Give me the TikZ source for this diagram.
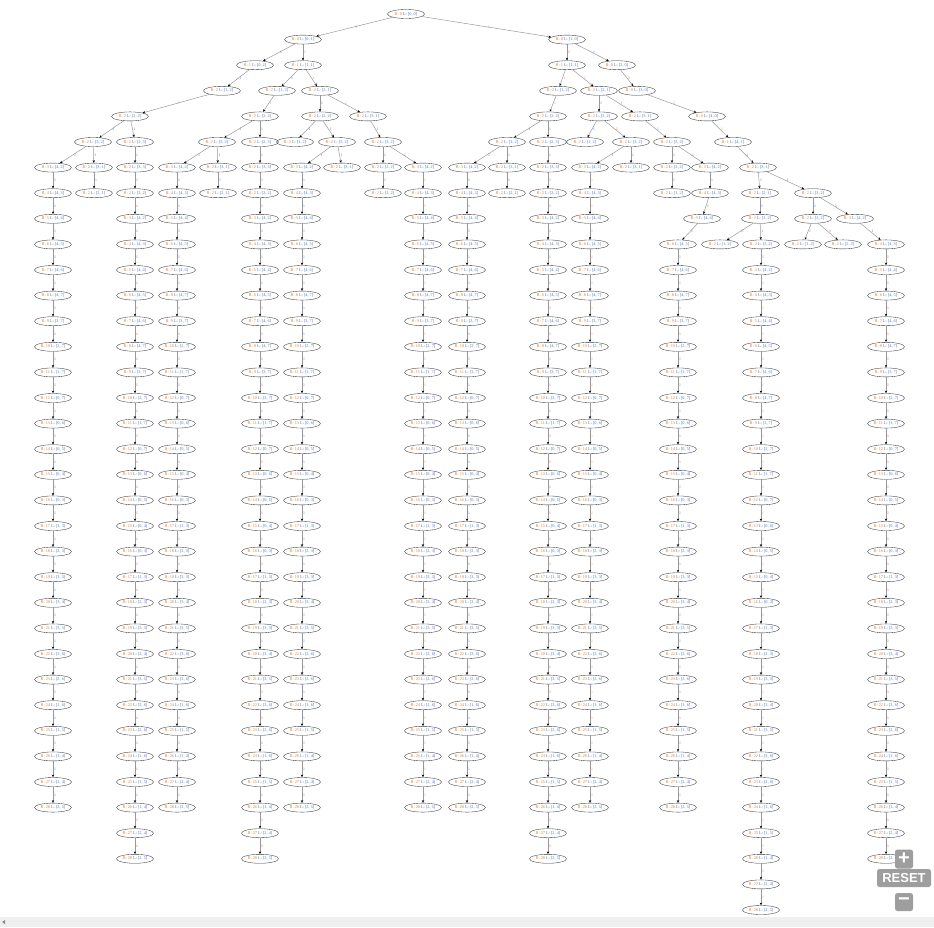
\documentclass[tikz,border=0pt]{standalone}
\usepackage{fontspec}
\setmainfont{Liberation Serif}
\newfontfamily\uifont{Liberation Sans}
\usetikzlibrary{shapes.geometric, arrows.meta}
\definecolor{rtext}{HTML}{D9822B}
\definecolor{ltext}{HTML}{4A78C2}
\definecolor{lblue}{HTML}{4A78C2}
\definecolor{lorange}{HTML}{E0902E}
\definecolor{lred}{HTML}{D8443C}
\definecolor{edgegray}{HTML}{999999}
\definecolor{btngray}{HTML}{9E9E9E}
\definecolor{barback}{HTML}{EFEFEF}
\tikzset{
  % search states
  state/.style={ellipse, draw=black!80, line width=0.35pt,
                minimum width=37pt, minimum height=9pt,
                inner xsep=-2pt, inner ysep=0pt,
                font=\fontsize{4.3}{5}\selectfont},
  % transitions
  rel/.style={draw=edgegray, line width=0.5pt,
              -{Stealth[length=2.8pt, width=2.3pt, color=black]}},
  % transition weights -- usage: node[elab=lred]{1}
  elab/.style={pos=0.5, anchor=west, inner sep=0.8pt,
               font=\fontsize{3.8}{4}\selectfont, text=#1},
  elab/.default=lblue,
  % viewer buttons
  ctrl/.style={rectangle, rounded corners=2.5pt, fill=btngray,
               text=white, font=\uifont\bfseries, inner sep=0pt},
}
\newcommand{\Y}[1]{-14-25.6*#1}
\newcommand{\lab}[3]{\textcolor{rtext}{R: #1} \textcolor{ltext}{L: [#2, #3]}}
% shared tail of every long branch: R/a/b
\newcommand{\pathseq}{3/4/2,4/4/3,5/4/4,6/4/5,7/4/6,8/4/7,9/3/7,10/2/7,
  11/1/7,12/0/7,13/0/6,14/0/5,15/0/4,16/0/3,17/1/3,18/2/3,19/3/3,20/3/4,
  21/3/5,22/3/6,23/2/6,24/1/6,25/1/5,26/1/4,27/2/4,28/2/5}
% usage: \chain{name}{x}{level offset}{first R}{label colour}
\newcommand{\chain}[5]{%
  \foreach \r/\pa/\pb in \pathseq {%
    \ifnum\r<#4\relax\else
      \pgfmathtruncatemacro{\lvl}{\r+#3}%
      \node[state] (#1-\r) at (#2,\Y{\lvl}) {\lab{\r}{\pa}{\pb}};
    \fi}%
  \foreach \r in {4,...,28} {%
    \pgfmathtruncatemacro{\q}{\r-1}%
    \draw[rel] (#1-\q) -- node[elab=#5]{1} (#1-\r);}%
}

\begin{document}
\begin{tikzpicture}[x=1pt, y=1pt]
\useasboundingbox (0,0) rectangle (934,-927);

% ── Levels 0-2 ───────────────────────────────────────────────────────────────
\node[state] (s0)     at (406,\Y{0}) {\lab{0}{0}{0}};
\node[state] (s1-303) at (303,\Y{1}) {\lab{0}{0}{1}};
\node[state] (s1-567) at (567,\Y{1}) {\lab{0}{1}{0}};
\node[state] (s2-255) at (255,\Y{2}) {\lab{1}{0}{2}};
\node[state] (s2-303) at (303,\Y{2}) {\lab{1}{1}{1}};
\node[state] (s2-567) at (567,\Y{2}) {\lab{1}{1}{1}};
\node[state] (s2-617) at (617,\Y{2}) {\lab{0}{2}{0}};

% ── Levels 3-4 ───────────────────────────────────────────────────────────────
\node[state] (s3-222) at (222,\Y{3}) {\lab{2}{1}{2}};
\node[state] (s3-277) at (277,\Y{3}) {\lab{2}{1}{2}};
\node[state] (s3-320) at (320,\Y{3}) {\lab{2}{2}{1}};
\node[state] (s3-558) at (558,\Y{3}) {\lab{2}{1}{2}};
\node[state] (s3-599) at (599,\Y{3}) {\lab{2}{2}{1}};
\node[state] (s3-637) at (637,\Y{3}) {\lab{0}{3}{0}};
\node[state] (s4-130) at (130,\Y{4}) {\lab{2}{2}{2}};
\node[state] (s4-260) at (260,\Y{4}) {\lab{2}{2}{2}};
\node[state] (s4-320) at (320,\Y{4}) {\lab{2}{2}{2}};
\node[state] (s4-368) at (368,\Y{4}) {\lab{2}{3}{1}};
\node[state] (s4-548) at (548,\Y{4}) {\lab{2}{2}{2}};
\node[state] (s4-599) at (599,\Y{4}) {\lab{2}{2}{2}};
\node[state] (s4-640) at (640,\Y{4}) {\lab{2}{3}{1}};
\node[state] (s4-707) at (707,\Y{4}) {\lab{0}{4}{0}};

% ── Level 5 ──────────────────────────────────────────────────────────────────
\node[state] (s5-93)  at (93, \Y{5}) {\lab{2}{3}{2}};
\node[state] (s5-135) at (135,\Y{5}) {\lab{2}{2}{3}};
\node[state] (s5-217) at (217,\Y{5}) {\lab{2}{3}{2}};
\node[state] (s5-260) at (260,\Y{5}) {\lab{2}{2}{3}};
\node[state] (s5-295) at (295,\Y{5}) {\lab{2}{1}{2}};
\node[state] (s5-337) at (337,\Y{5}) {\lab{2}{3}{2}};
\node[state] (s5-383) at (383,\Y{5}) {\lab{2}{3}{2}};
\node[state] (s5-507) at (507,\Y{5}) {\lab{2}{3}{2}};
\node[state] (s5-548) at (548,\Y{5}) {\lab{2}{2}{3}};
\node[state] (s5-585) at (585,\Y{5}) {\lab{2}{1}{2}};
\node[state] (s5-631) at (631,\Y{5}) {\lab{2}{3}{2}};
\node[state] (s5-672) at (672,\Y{5}) {\lab{2}{3}{2}};
\node[state] (s5-733) at (733,\Y{5}) {\lab{1}{4}{1}};

% ── Levels 6-9 (short branches) ─────────────────────────────────────────────
\node[state] (s6-94)  at (94, \Y{6}) {\lab{2}{3}{1}};
\node[state] (s6-135) at (135,\Y{6}) {\lab{2}{3}{3}};
\node[state] (s6-218) at (218,\Y{6}) {\lab{2}{3}{1}};
\node[state] (s6-260) at (260,\Y{6}) {\lab{2}{3}{3}};
\node[state] (s6-342) at (342,\Y{6}) {\lab{2}{3}{1}};
\node[state] (s6-383) at (383,\Y{6}) {\lab{2}{2}{2}};
\node[state] (s6-507) at (507,\Y{6}) {\lab{2}{3}{1}};
\node[state] (s6-548) at (548,\Y{6}) {\lab{2}{3}{3}};
\node[state] (s6-631) at (631,\Y{6}) {\lab{2}{3}{1}};
\node[state] (s6-672) at (672,\Y{6}) {\lab{2}{2}{2}};
\node[state] (s6-758) at (758,\Y{6}) {\lab{2}{3}{1}};
\node[state] (s7-94)  at (94, \Y{7}) {\lab{2}{2}{1}};
\node[state] (s7-135) at (135,\Y{7}) {\lab{2}{3}{2}};
\node[state] (s7-218) at (218,\Y{7}) {\lab{2}{2}{1}};
\node[state] (s7-260) at (260,\Y{7}) {\lab{2}{3}{2}};
\node[state] (s7-383) at (383,\Y{7}) {\lab{2}{1}{2}};
\node[state] (s7-507) at (507,\Y{7}) {\lab{2}{2}{1}};
\node[state] (s7-548) at (548,\Y{7}) {\lab{2}{3}{2}};
\node[state] (s7-672) at (672,\Y{7}) {\lab{2}{1}{2}};
\node[state] (s7-760) at (760,\Y{7}) {\lab{2}{2}{1}};
\node[state] (s7-813) at (813,\Y{7}) {\lab{2}{3}{2}};
\node[state] (s8-760) at (760,\Y{8}) {\lab{2}{2}{2}};
\node[state] (s8-813) at (813,\Y{8}) {\lab{2}{2}{2}};
\node[state] (s9-720) at (720,\Y{9}) {\lab{2}{1}{2}};
\node[state] (s9-761) at (761,\Y{9}) {\lab{2}{3}{2}};
\node[state] (s9-803) at (803,\Y{9}) {\lab{2}{1}{2}};
\node[state] (s9-843) at (843,\Y{9}) {\lab{2}{2}{3}};

% ── Heads of the bent branches ───────────────────────────────────────────────
\node[state] (c10-3) at (710,\Y{6}) {\lab{3}{4}{2}};
\node[state] (c10-4) at (710,\Y{7}) {\lab{4}{4}{3}};
\node[state] (c10-5) at (702,\Y{8}) {\lab{5}{4}{4}};
\node[state] (c12-3) at (855,\Y{8}) {\lab{3}{4}{2}};

% ── Long branches ────────────────────────────────────────────────────────────
\chain{c1}{53}{3}{3}{lblue}
\chain{c2}{135}{5}{3}{lred}
\chain{c3}{177}{3}{3}{lblue}
\chain{c4}{260}{5}{3}{lred}
\chain{c5}{302}{3}{3}{lblue}
\chain{c6}{423}{3}{3}{lorange}
\chain{c7}{467}{3}{3}{lblue}
\chain{c8}{548}{5}{3}{lred}
\chain{c9}{590}{3}{3}{lorange}
\chain{c10}{678}{3}{6}{lblue}
\chain{c11}{761}{7}{3}{lorange}
\chain{c12}{886}{5}{4}{lred}

% ── Transitions ──────────────────────────────────────────────────────────────
\draw[rel] (s0) -- node[elab=lorange]{1} (s1-303);
\draw[rel] (s0) -- node[elab=lorange]{1} (s1-567);
\draw[rel] (s1-303) -- node[elab]{1} (s2-255);
\draw[rel] (s1-303) -- node[elab=lorange]{1} (s2-303);
\draw[rel] (s1-567) -- node[elab=lred]{1} (s2-567);
\draw[rel] (s1-567) -- node[elab]{1} (s2-617);
\draw[rel] (s2-255) -- node[elab]{1} (s3-222);
\draw[rel] (s2-303) -- node[elab]{1} (s3-277);
\draw[rel] (s2-303) -- node[elab=lorange]{1} (s3-320);
\draw[rel] (s2-567) -- node[elab=lorange]{1} (s3-558);
\draw[rel] (s2-567) -- node[elab=lorange]{1} (s3-599);
\draw[rel] (s2-617) -- node[elab=lred]{1} (s3-637);
\draw[rel] (s3-222) -- node[elab=lorange]{1} (s4-130);
\draw[rel] (s3-277) -- node[elab=lorange]{1} (s4-260);
\draw[rel] (s3-320) -- node[elab]{1} (s4-320);
\draw[rel] (s3-320) -- node[elab=lorange]{1} (s4-368);
\draw[rel] (s3-558) -- node[elab=lorange]{1} (s4-548);
\draw[rel] (s3-599) -- node[elab]{1} (s4-599);
\draw[rel] (s3-599) -- node[elab=lorange]{1} (s4-640);
\draw[rel] (s3-637) -- node[elab=lorange]{1} (s4-707);
\draw[rel] (s4-130) -- node[elab]{1} (s5-93);
\draw[rel] (s4-130) -- node[elab=lred]{1} (s5-135);
\draw[rel] (s4-260) -- node[elab]{1} (s5-217);
\draw[rel] (s4-260) -- node[elab=lred]{1} (s5-260);
\draw[rel] (s4-320) -- node[elab]{1} (s5-295);
\draw[rel] (s4-320) -- node[elab=lred]{1} (s5-337);
\draw[rel] (s4-368) -- node[elab]{1} (s5-383);
\draw[rel] (s4-548) -- node[elab]{1} (s5-507);
\draw[rel] (s4-548) -- node[elab=lred]{1} (s5-548);
\draw[rel] (s4-599) -- node[elab]{1} (s5-585);
\draw[rel] (s4-599) -- node[elab=lred]{1} (s5-631);
\draw[rel] (s4-640) -- node[elab]{1} (s5-672);
\draw[rel] (s4-707) -- node[elab=lorange]{1} (s5-733);
\draw[rel] (s5-93) -- node[elab=lred]{1} (c1-3);
\draw[rel] (s5-93) -- node[elab]{1} (s6-94);
\draw[rel] (s5-135) -- node[elab]{1} (s6-135);
\draw[rel] (s5-217) -- node[elab=lred]{1} (c3-3);
\draw[rel] (s5-217) -- node[elab]{1} (s6-218);
\draw[rel] (s5-260) -- node[elab]{1} (s6-260);
\draw[rel] (s5-337) -- node[elab=lred]{1} (c5-3);
\draw[rel] (s5-337) -- node[elab]{1} (s6-342);
\draw[rel] (s5-383) -- node[elab]{1} (s6-383);
\draw[rel] (s5-383) -- node[elab=lred]{1} (c6-3);
\draw[rel] (s5-507) -- node[elab=lred]{1} (c7-3);
\draw[rel] (s5-507) -- node[elab]{1} (s6-507);
\draw[rel] (s5-548) -- node[elab]{1} (s6-548);
\draw[rel] (s5-631) -- node[elab=lred]{1} (c9-3);
\draw[rel] (s5-631) -- node[elab]{1} (s6-631);
\draw[rel] (s5-672) -- node[elab]{1} (s6-672);
\draw[rel] (s5-672) -- node[elab=lred]{1} (c10-3);
\draw[rel] (s5-733) -- node[elab]{1} (s6-758);
\draw[rel] (s6-94) -- node[elab]{1} (s7-94);
\draw[rel] (s6-135) -- node[elab]{1} (s7-135);
\draw[rel] (s6-218) -- node[elab]{1} (s7-218);
\draw[rel] (s6-260) -- node[elab]{1} (s7-260);
\draw[rel] (s6-383) -- node[elab]{1} (s7-383);
\draw[rel] (s6-507) -- node[elab]{1} (s7-507);
\draw[rel] (s6-548) -- node[elab]{1} (s7-548);
\draw[rel] (s6-672) -- node[elab]{1} (s7-672);
\draw[rel] (s6-758) -- node[elab]{1} (s7-760);
\draw[rel] (s6-758) -- node[elab=lred]{1} (s7-813);
\draw[rel] (s7-135) -- node[elab=lred]{1} (c2-3);
\draw[rel] (s7-260) -- node[elab=lred]{1} (c4-3);
\draw[rel] (s7-548) -- node[elab=lred]{1} (c8-3);
\draw[rel] (s7-760) -- node[elab]{1} (s8-760);
\draw[rel] (s7-813) -- node[elab]{1} (s8-813);
\draw[rel] (s7-813) -- node[elab=lred]{1} (c12-3);
\draw[rel] (s8-760) -- node[elab]{1} (s9-720);
\draw[rel] (s8-760) -- node[elab=lred]{1} (s9-761);
\draw[rel] (s8-813) -- node[elab]{1} (s9-803);
\draw[rel] (s8-813) -- node[elab=lred]{1} (s9-843);
\draw[rel] (s9-761) -- node[elab=lred]{1} (c11-3);

% ── Viewer controls ──────────────────────────────────────────────────────────
\fill[barback] (0,-917) rectangle (934,-927);
\fill[black!45] (2,-922) -- (5,-920) -- (5,-924) -- cycle;
\node[ctrl, minimum width=18pt, minimum height=19pt, font=\uifont\bfseries\fontsize{20}{20}\selectfont]
  (zoomin) at (904,-859) {+};
\node[ctrl, minimum width=54pt, minimum height=18pt, font=\uifont\bfseries\fontsize{13}{13}\selectfont]
  (reset) at (904,-878) {RESET};
\node[ctrl, minimum width=18pt, minimum height=18pt, font=\uifont\bfseries\fontsize{20}{20}\selectfont]
  (zoomout) at (904,-902) {\char"2212};

\end{tikzpicture}
\end{document}
